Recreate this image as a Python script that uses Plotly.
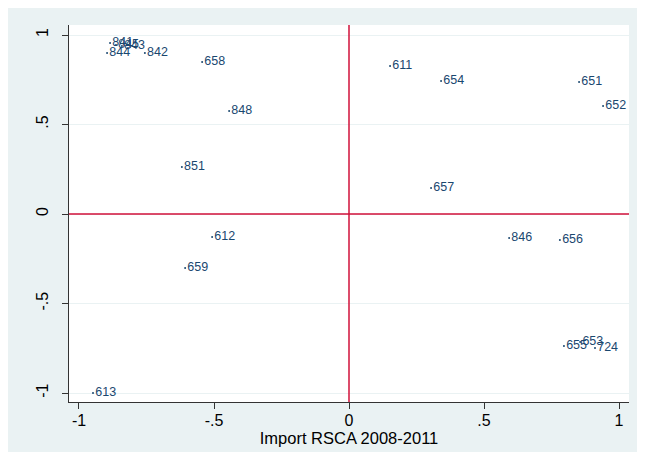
import plotly.graph_objects as go

labels = ["841", "845", "843", "844", "842", "658", "848", "851", "612", "659", "613",
          "611", "654", "651", "652", "657", "846", "656", "655", "653", "724"]
x_vals = [-0.885, -0.863, -0.841, -0.896, -0.756, -0.544, -0.444, -0.619, -0.507, -0.607, -0.948,
          0.152, 0.341, 0.852, 0.941, 0.304, 0.593, 0.781, 0.796, 0.856, 0.911]
y_vals = [0.955, 0.944, 0.939, 0.899, 0.899, 0.849, 0.575, 0.263, -0.128, -0.302, -1.0,
          0.827, 0.743, 0.737, 0.603, 0.145, -0.134, -0.145, -0.737, -0.715, -0.749]

tick_vals = [-1, -0.5, 0, 0.5, 1]
tick_text = ["-1", "-.5", "0", ".5", "1"]

navy = "#1A476F"
bg = "#EAF2F3"
red = "#D0103A"

fig = go.Figure()
fig.add_trace(go.Scatter(
    x=x_vals, y=y_vals, mode="markers+text", text=labels,
    textposition="middle right",
    marker=dict(size=2, color=navy),
    textfont=dict(family="Liberation Sans, Arial", size=12.5, color=navy),
    hoverinfo="skip", showlegend=False, cliponaxis=False,
))

fig.update_layout(
    width=637, height=451,
    margin=dict(l=61, r=16, t=17, b=57),
    paper_bgcolor="white",
    plot_bgcolor="white",
    font=dict(family="Liberation Sans, Arial", size=16, color="#000000"),
    shapes=[
        dict(type="rect", xref="paper", yref="paper", layer="below",
             x0=-63/560, x1=1 + 11/560, y0=-50/377, y1=1 + 17/377,
             fillcolor=bg, line=dict(width=0)),
        dict(type="rect", xref="paper", yref="paper", layer="below",
             x0=0, x1=1, y0=0, y1=1, fillcolor="white", line=dict(width=0)),
        dict(type="line", xref="x", yref="paper", x0=0, x1=0, y0=0, y1=1,
             line=dict(color=red, width=1.5)),
        dict(type="line", xref="paper", yref="y", x0=0, x1=1, y0=0, y1=0,
             line=dict(color=red, width=1.5)),
    ],
)

fig.update_xaxes(
    range=[-1.037, 1.037], tickvals=tick_vals, ticktext=tick_text,
    showgrid=False, zeroline=False,
    showline=True, linecolor="#333333", linewidth=1,
    ticks="outside", ticklen=6, tickcolor="#333333",
    tickfont=dict(size=16), ticklabelstandoff=-2,
    title=dict(text="Import RSCA 2008-2011", font=dict(size=16.5), standoff=0),
)
fig.update_yaxes(
    range=[-1.050, 1.056], tickvals=tick_vals, ticktext=tick_text,
    showgrid=True, gridcolor=bg, gridwidth=1, zeroline=False,
    showline=True, linecolor="#333333", linewidth=1,
    ticks="outside", ticklen=6, tickcolor="#333333",
    tickangle=-90, tickfont=dict(size=16), ticklabelstandoff=8,
)

fig.write_html("out.html")
